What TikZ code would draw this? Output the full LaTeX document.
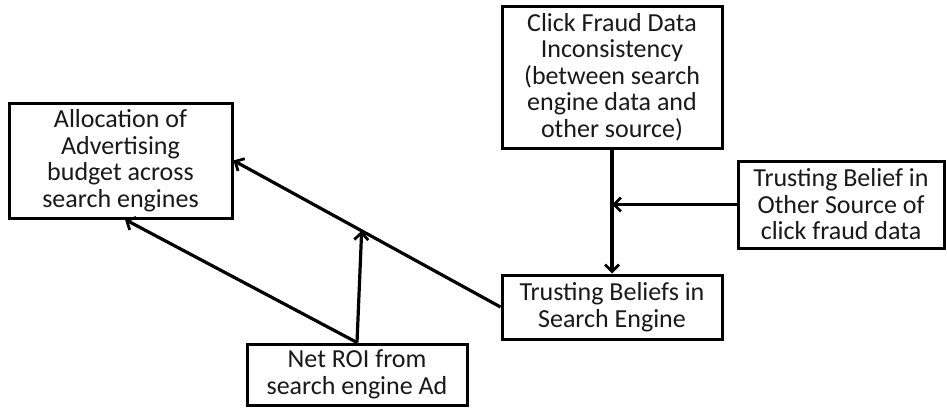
\documentclass[tikz,border=0pt]{standalone}
\usepackage{fontspec}
\setmainfont{Carlito}
\usetikzlibrary{arrows.meta,calc}

\tikzset{
  box/.style={draw=black, line width=3pt, fill=white, align=center,
    inner sep=0pt, font=\fontsize{26}{26.5}\selectfont, text=black!90},
  link/.style={line width=3.2pt, draw=black,
    -{Straight Barb[length=7pt,width=14pt,line width=2.8pt]}},
}

\begin{document}
\begin{tikzpicture}[x=1pt,y=-1pt]
  \useasboundingbox (0,0) rectangle (947,407);

  % factor boxes
  \node[box, minimum width=223pt, minimum height=115pt] (A) at (120.5,160.5)
    {Allocation of\\Advertising\\budget across\\search engines};
  \node[box, minimum width=220pt, minimum height=142pt] (B) at (612,77)
    {Click Fraud Data\\Inconsistency\\(between search\\engine data and\\other source)};
  \node[box, minimum width=206pt, minimum height=87pt] (C) at (841,204.5)
    {Trusting Belief in\\Other Source of\\click fraud data};
  \node[box, minimum width=220pt, minimum height=64pt] (D) at (612,307)
    {Trusting Beliefs in\\Search Engine};
  \node[box, minimum width=220pt, minimum height=61pt] (E) at (357,374.5)
    {Net ROI from\\search engine Ad};

  % junction points where moderating arrows meet a path
  \coordinate (j1) at (B.south |- C.west);
  \coordinate (j2) at ($(D.west)!0.52!(A.east)$);
  \coordinate (a1) at ($(A.south west)!0.52!(A.south east)$);

  % connectors
  \draw[link] (B.south) -- (D.north);
  \draw[link] (C.west) -- (j1);
  \draw[link] (D.west) -- (A.east);
  \draw[link] (E.north) -- (j2);
  \draw[link] (E.north) -- (a1);
\end{tikzpicture}
\end{document}
